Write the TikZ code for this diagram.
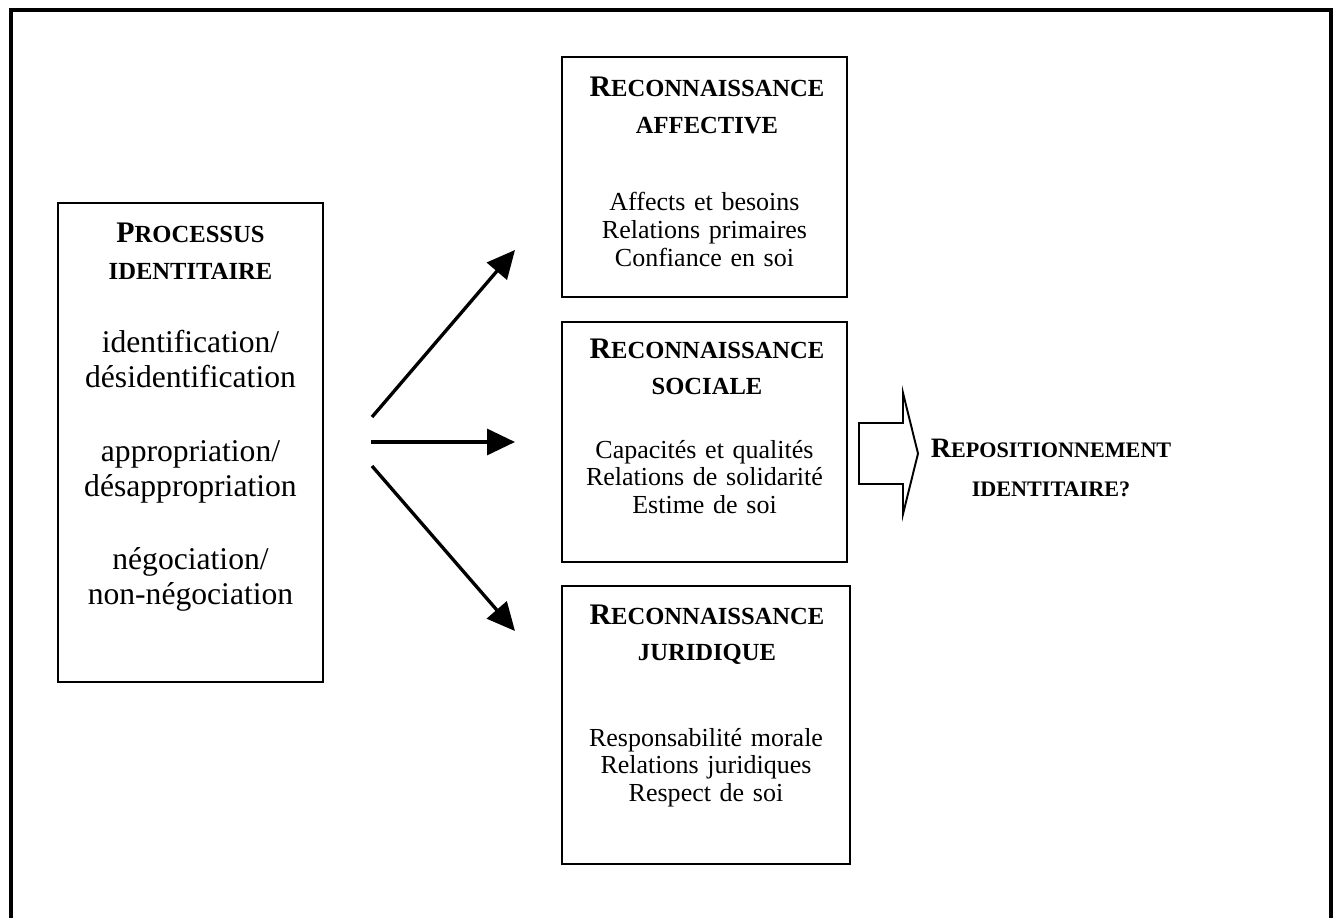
\documentclass[tikz,border=0pt]{standalone}
\usepackage{fontspec}
\setmainfont{Liberation Serif}
\usetikzlibrary{arrows.meta,positioning}

\newdimen\pxu \pxu=0.02cm
\def\scbig{17}
\def\scsmall{14}
% bold caps with a larger first letter
\newcommand{\fauxsc}[2]{{\fontsize{\scbig}{20.5}\selectfont #1}{\fontsize{\scsmall}{20.5}\selectfont #2}}

\tikzset{
  box/.style={draw, line width=1.1pt, inner sep=0pt},
  head/.style={font=\bfseries\fontsize{17}{20.5}\selectfont, align=center, anchor=base, inner sep=0pt, text width=270\pxu},
  item/.style={font=\fontsize{14.8}{15.9}\selectfont, align=center, anchor=base, inner sep=0pt, text width=275\pxu},
  ray/.style={line width=1.9pt, -{Triangle[length=0.56cm,width=0.52cm]}},
}

\begin{document}
\begin{tikzpicture}[x=0.02cm, y=-0.02cm]
  \useasboundingbox (0,0) rectangle (1337,918);
  \draw[line width=2.3pt] (11,10) rectangle (1330.5,940);

  % left box
  \node[box, minimum width=265\pxu, minimum height=479\pxu] (proc) at (190.5,442.5) {};
  \node[head] (proc-head) at (190.5,243) {\fauxsc{P}{ROCESSUS}\\\fauxsc{}{IDENTITAIRE}};
  \node[item, font=\fontsize{18}{19.8}\selectfont, text width=255\pxu] (proc-body) at (190.5,353)
    {identification/\\désidentification\\[22pt]appropriation/\\désappropriation\\[22pt]négociation/\\non-négociation};

  % three boxes on the right
  \node[box, minimum width=285\pxu, minimum height=240\pxu] (aff) at (704.5,177) {};
  \node[head] (aff-head) at (707,97) {\fauxsc{R}{ECONNAISSANCE}\\\fauxsc{}{AFFECTIVE}};
  \node[item] (aff-body) at (704.5,211) {Affects et besoins\\Relations primaires\\Confiance en soi};

  \node[box, minimum width=285\pxu, minimum height=240\pxu] (soc) at (704.5,442) {};
  \node[head] (soc-head) at (707,358) {\fauxsc{R}{ECONNAISSANCE}\\\fauxsc{}{SOCIALE}};
  \node[item] (soc-body) at (704.5,458) {Capacités et qualités\\Relations de solidarité\\Estime de soi};

  \node[box, minimum width=288\pxu, minimum height=278\pxu] (jur) at (706,725) {};
  \node[head] (jur-head) at (707,624) {\fauxsc{R}{ECONNAISSANCE}\\\fauxsc{}{JURIDIQUE}};
  \node[item] (jur-body) at (706,746) {Responsabilité morale\\Relations juridiques\\Respect de soi};

  % arrows
  \coordinate (s1) at (372,417);
  \coordinate (s2) at (371,442);
  \coordinate (s3) at (372,466);
  \coordinate (t1) at (515,250);
  \coordinate (t2) at (515,442);
  \coordinate (t3) at (515,631);
  \draw[ray] (s1) -- (t1);
  \draw[ray] (s2) -- (t2);
  \draw[ray] (s3) -- (t3);

  % block arrow and result
  \draw[line width=1.1pt] (859,423) -- (903,423) -- (903,393) -- (918,453.5)
    -- (903,514) -- (903,484) -- (859,484) -- cycle;
  \node[head, font=\bfseries\fontsize{16}{22.7}\selectfont, text width=300\pxu] (repos) at (1051,457)
    {\def\scbig{16}\def\scsmall{12.6}\fauxsc{R}{EPOSITIONNEMENT}\\\fauxsc{}{IDENTITAIRE?}};
\end{tikzpicture}
\end{document}
